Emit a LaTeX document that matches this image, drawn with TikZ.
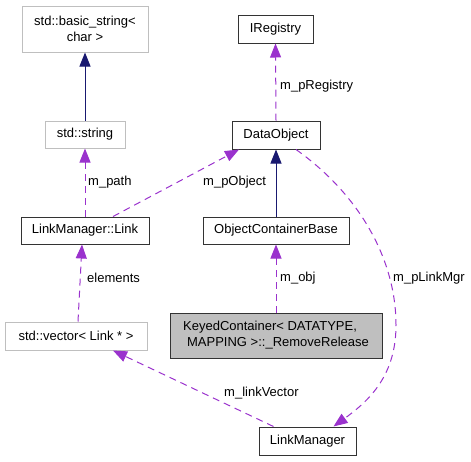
\documentclass[tikz,border=0pt]{standalone}
\usepackage{fontspec}
\setmainfont{Liberation Sans}
\usetikzlibrary{arrows.meta}
\definecolor{edgepurple}{HTML}{9A32CD}
\definecolor{edgenavy}{HTML}{191970}
\definecolor{boxgray}{HTML}{BFBFBF}
\begin{document}
\begin{tikzpicture}[x=1pt, y=-1pt,
		every node/.style={font=\fontsize{13}{16}\selectfont, inner sep=0pt},
		cls/.style={draw=black!80, line width=1pt, minimum height=27pt},
		extcls/.style={draw=boxgray, line width=1pt, minimum height=27pt},
		usage/.style={edgepurple, line width=1pt, dash pattern=on 7pt off 5pt, -{Triangle[length=14pt,width=11pt]}},
		inherit/.style={edgenavy, line width=1pt, -{Triangle[length=14pt,width=11pt]}},
		lbl/.style={anchor=west}]
		\useasboundingbox (0,0) rectangle (471,461);
		\node[extcls, minimum width=126pt, minimum height=46pt, align=center] (bstr) at (85,29) {std::basic\_string<\\char >};
		\node[extcls, minimum width=80pt] (str) at (85,134.5) {std::string};
		\node[cls, minimum width=128pt] (link) at (85,230.5) {LinkManager::Link};
		\node[cls, minimum width=75pt, minimum height=28pt] (ireg) at (275.5,29) {IRegistry};
		\node[cls, minimum width=88pt, minimum height=28pt] (dobj) at (276,135) {DataObject};
		\node[cls, minimum width=146pt] (ocb) at (276,230.5) {ObjectContainerBase};
		\node[cls, fill=boxgray, minimum width=212pt, minimum height=45pt, align=left] (kc) at (276,335.5) {KeyedContainer< DATATYPE,\\\hspace{4pt}MAPPING >::\_RemoveRelease};
		\node[extcls, minimum width=142pt, minimum height=28pt] (vec) at (76,336) {std::vector< Link * >};
		\node[cls, minimum width=97pt, minimum height=28pt] (lmgr) at (307.5,441) {LinkManager};
		% inheritance
		\draw[inherit] (str.north) -- (bstr.south);
		\draw[inherit] (ocb.north) -- (dobj.south);
		% usage relations
		\draw[usage] (link.north) -- (str.south);
		\draw[usage] ([xshift=28pt]link.north) -- ([xshift=-37pt]dobj.south);
		\draw[usage] (dobj.north) -- (ireg.south);
		\draw[usage] (kc.north) -- (ocb.south);
		\draw[usage] ([xshift=2pt]vec.north) -- ([xshift=-3pt]link.south);
		\draw[usage] ([xshift=-34pt]lmgr.north) -- ([xshift=37pt]vec.south);
		\draw[usage] ([xshift=20pt]dobj.south) .. controls (360,195) and (396,260) .. (396,325) .. controls (396,375) and (370,400) .. ([xshift=26pt]lmgr.north);
		\node[lbl] (lpath) at (88,182) {m\_path};
		\node[lbl] (lobject) at (203,182) {m\_pObject};
		\node[lbl] (lregistry) at (280,86) {m\_pRegistry};
		\node[lbl] (lelements) at (87,278) {elements};
		\node[lbl] (lobj) at (280,278) {m\_obj};
		\node[lbl] (llinkmgr) at (393,278) {m\_pLinkMgr};
		\node[lbl] (llinkvec) at (224,393) {m\_linkVector};
\end{tikzpicture}
\end{document}
